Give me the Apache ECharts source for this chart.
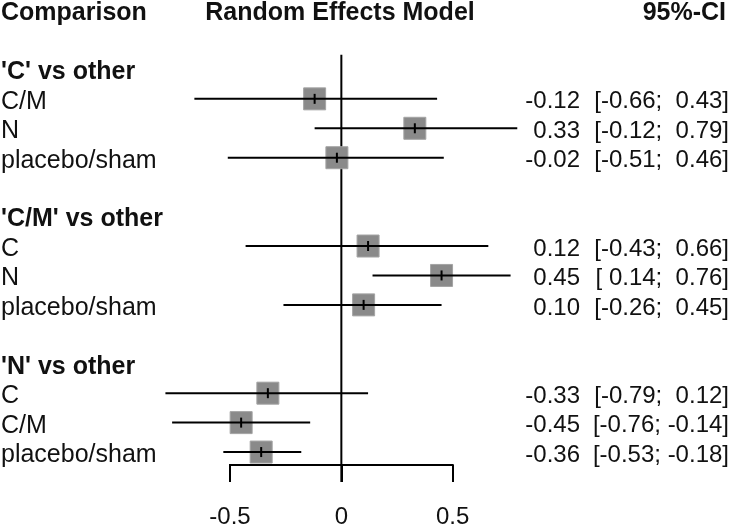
<!DOCTYPE html>
<html>
<head>
<meta charset="utf-8">
<script src="https://cdn.jsdelivr.net/npm/echarts@6/dist/echarts.min.js"></script>
<style>
  html, body { margin: 0; padding: 0; background: #fff; }
  #forest { width: 732px; height: 529px; }
</style>
</head>
<body>
<div id="forest"></div>
<script>
let chart = echarts.init(document.querySelector('#forest'), null, { renderer: 'canvas' });

const FONT = '"Liberation Sans", Arial, sans-serif';

// one entry per row, top to bottom
const rowLabels = [
  "'C' vs other", 'C/M', 'N', 'placebo/sham', '',
  "'C/M' vs other", 'C', 'N', 'placebo/sham', '',
  "'N' vs other", 'C', 'C/M', 'placebo/sham'
];
const headerRows = [0, 5, 10];
const estimates = [null, -0.12, 0.33, -0.02, null, null, 0.12, 0.45, 0.10, null, null, -0.33, -0.45, -0.36];
const lowers    = [null, -0.66, -0.12, -0.51, null, null, -0.43, 0.14, -0.26, null, null, -0.79, -0.76, -0.53];
const uppers    = [null, 0.43, 0.79, 0.46, null, null, 0.66, 0.76, 0.45, null, null, 0.12, -0.14, -0.18];
const xTicks = [-0.5, 0, 0.5];

const Y_MIN = -0.5, Y_MAX = 13.44;

function fmt(v) {
  return v < 0 ? v.toFixed(2) : ' ' + v.toFixed(2);
}

const markData = [];
estimates.forEach((e, i) => {
  if (e !== null) markData.push([e, i, lowers[i], uppers[i]]);
});
const textData = rowLabels.map((l, i) => [0, i]);

let option = {
  animation: false,
  grid: { left: 163.2, right: 212.5, top: 54.7, bottom: 60 },
  xAxis: {
    type: 'value',
    min: -0.8,
    max: 0.8,
    splitLine: { show: false },
    axisLine: { show: false, onZero: false },
    axisTick: {
      show: true,
      customValues: xTicks,
      length: 17,
      lineStyle: { color: '#000', width: 2 }
    },
    axisLabel: {
      customValues: xTicks,
      margin: 40,
      fontFamily: FONT,
      fontSize: 24,
      color: '#111',
      formatter: v => String(v)
    }
  },
  yAxis: {
    type: 'value',
    inverse: true,
    min: Y_MIN,
    max: Y_MAX,
    show: false
  },
  graphic: [
    { type: 'text', left: 1, top: 1,
      style: { text: 'Comparison', font: 'bold 25px ' + FONT, fill: '#111' } },
    { type: 'text', x: 340, y: 1,
      style: { text: 'Random Effects Model', font: 'bold 25px ' + FONT, fill: '#111', align: 'center' } },
    { type: 'text', x: 726, y: 1,
      style: { text: '95%-CI', font: 'bold 25px ' + FONT, fill: '#111', align: 'right' } }
  ],
  series: [
    {
      // zero line and bottom axis segment
      type: 'custom',
      clip: false,
      silent: true,
      data: [[0, Y_MAX]],
      z: 1,
      renderItem: (params, api) => {
        const top = api.coord([0, Y_MIN]);
        const bot = api.coord([0, Y_MAX]);
        const a = api.coord([xTicks[0], Y_MAX]);
        const b = api.coord([xTicks[xTicks.length - 1], Y_MAX]);
        return {
          type: 'group',
          children: [
            { type: 'line', shape: { x1: top[0], y1: top[1], x2: bot[0], y2: bot[1] + 17 },
              style: { stroke: '#000', lineWidth: 2 } },
            { type: 'line', shape: { x1: a[0] - 1, y1: a[1], x2: b[0] + 1, y2: b[1] },
              style: { stroke: '#000', lineWidth: 2 } }
          ]
        };
      }
    },
    {
      type: 'custom',
      clip: false,
      silent: true,
      data: markData,
      z: 2,
      renderItem: (params, api) => {
        const c = api.coord([api.value(0), api.value(1)]);
        const lo = api.coord([api.value(2), api.value(1)]);
        const hi = api.coord([api.value(3), api.value(1)]);
        const s = 22;
        return {
          type: 'group',
          children: [
            { type: 'rect', shape: { x: c[0] - s / 2, y: c[1] - s / 2, width: s, height: s },
              style: { fill: '#8a8a8a', stroke: '#a4a4a4', lineWidth: 1 } },
            { type: 'line', shape: { x1: lo[0], y1: lo[1], x2: hi[0], y2: hi[1] },
              style: { stroke: '#000', lineWidth: 2 } },
            { type: 'line', shape: { x1: c[0], y1: c[1] - 5, x2: c[0], y2: c[1] + 5 },
              style: { stroke: '#000', lineWidth: 2 } }
          ]
        };
      }
    },
    {
      type: 'custom',
      clip: false,
      silent: true,
      data: textData,
      z: 3,
      renderItem: (params, api) => {
        const i = params.dataIndex;
        const y = api.coord([0, api.value(1)])[1] + 3;
        const bold = headerRows.indexOf(i) >= 0;
        const children = [
          { type: 'text', x: 1, y: y,
            style: { text: rowLabels[i], font: (bold ? 'bold ' : '') + '25px ' + FONT,
                     fill: '#111', verticalAlign: 'middle' } }
        ];
        if (estimates[i] !== null) {
          children.push(
            { type: 'text', x: 580, y: y,
              style: { text: estimates[i].toFixed(2), font: '24px ' + FONT, fill: '#111',
                       align: 'right', verticalAlign: 'middle' } },
            { type: 'text', x: 729, y: y,
              style: { text: '[' + fmt(lowers[i]) + '; ' + fmt(uppers[i]) + ']', font: '24px ' + FONT,
                       fill: '#111', align: 'right', verticalAlign: 'middle' } }
          );
        }
        return { type: 'group', children: children };
      }
    }
  ]
};

chart.setOption(option);
</script>
</body>
</html>
